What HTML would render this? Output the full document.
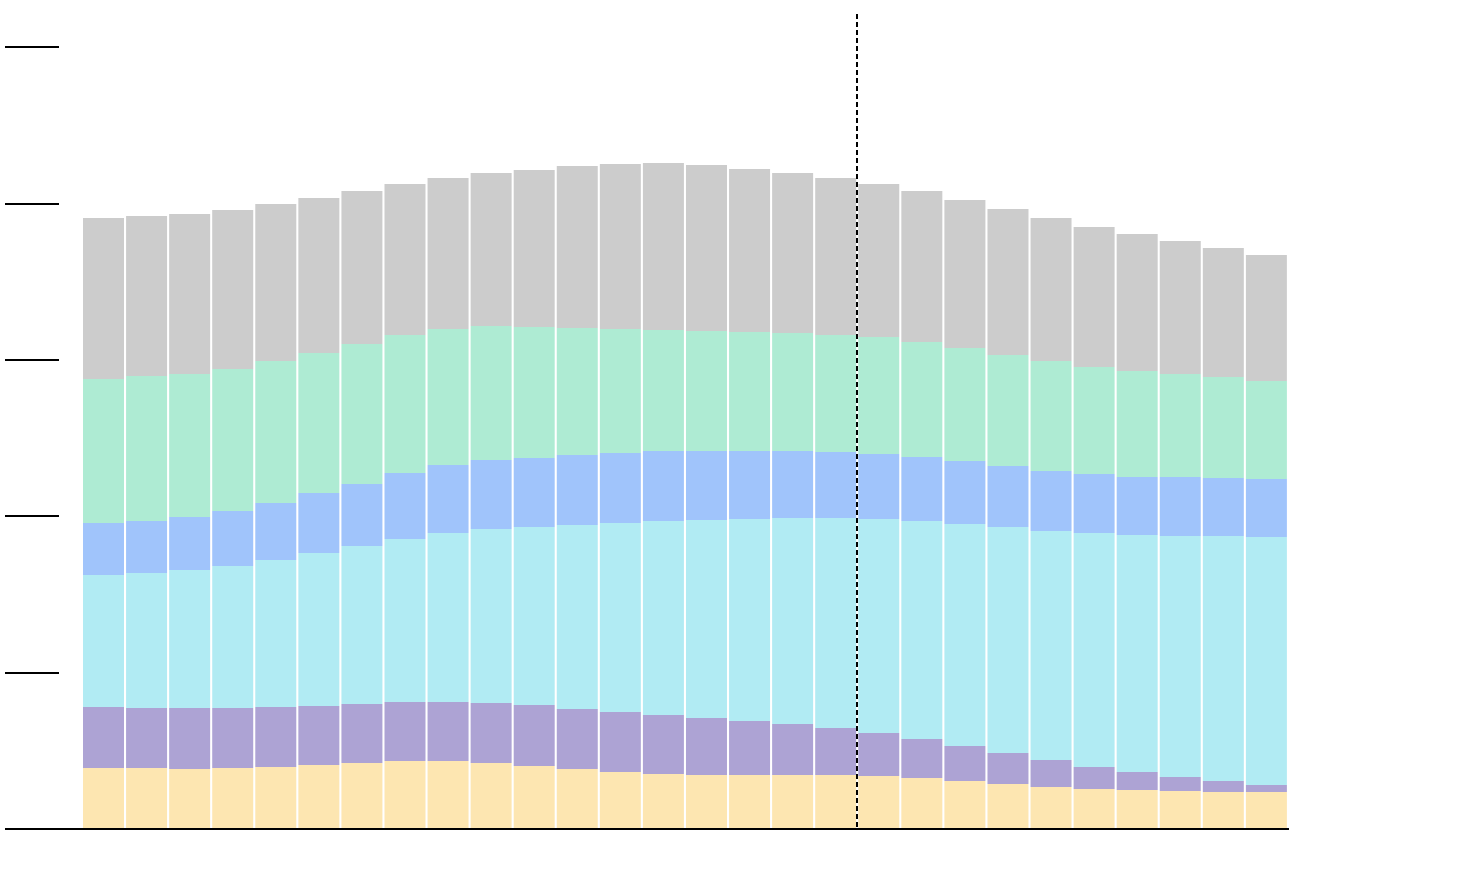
<!DOCTYPE html>
<html><head><meta charset="utf-8"><style>
html,body{margin:0;padding:0;background:#fff;width:1480px;height:880px;overflow:hidden}
</style></head><body>
<svg width="1480" height="880" xmlns="http://www.w3.org/2000/svg" id="c"></svg>
<script>
const d=[
[218,379,523,575,707,768],[216,376,521,573,708,768],[214,374,517,570,708,769],[210,369,511,566,708,768],
[204,361,503,560,707,767],[198,353,493,553,706,765],[191,344,484,546,704,763],[184,335,473,539,702,761],
[178,329,465,533,702,761],[173,326,460,529,703,763],[170,327,458,527,705,766],[166,328,455,525,709,769],
[164,329,453,523,712,772],[163,330,451,521,715,774],[165,331,451,520,718,775],[169,332,451,519,721,775],
[173,333,451,518,724,775],[178,335,452,518,728,775],[184,337,454,519,733,776],[191,342,457,521,739,778],
[200,348,461,524,746,781],[209,355,466,527,753,784],[218,361,471,531,760,787],[227,367,474,533,767,789],
[234,371,477,535,772,790],[241,374,477,536,777,791],[248,377,478,536,781,792],[255,381,479,537,785,792]];
const cols=["#cccccc","#aeebd3","#a0c4fb","#b1ebf3","#ada3d4","#fde6b1"];
let s="";
d.forEach((b,i)=>{const x=83+i*43.07;const ys=b.concat([829]);
for(let k=0;k<6;k++){s+=`<rect x="${x}" y="${ys[k]}" width="41" height="${ys[k+1]-ys[k]}" fill="${cols[k]}"/>`;}});
[47,204,360,516,673].forEach(y=>{s+=`<line x1="5" x2="59" y1="${y}" y2="${y}" stroke="#000" stroke-width="2"/>`;});
s+=`<line x1="5" x2="1289" y1="829" y2="829" stroke="#000" stroke-width="2"/>`;
s+=`<line x1="857" x2="857" y1="14" y2="829" stroke="#000" stroke-width="2" stroke-dasharray="5,3"/>`;
document.getElementById("c").innerHTML=s;
</script>
</body></html>
